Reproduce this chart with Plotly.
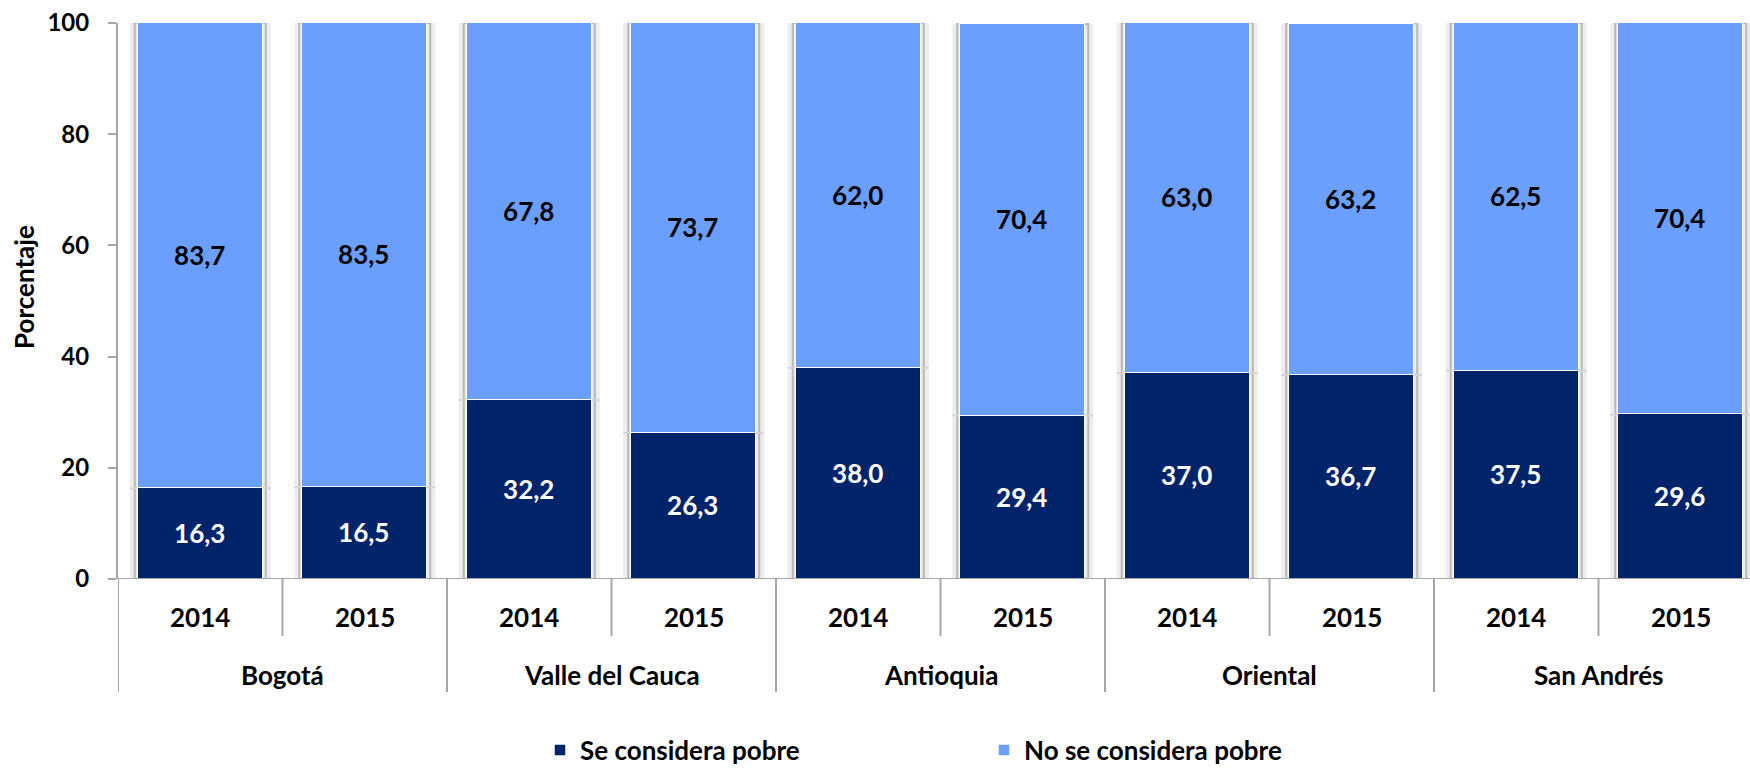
import plotly.graph_objects as go

# Data: self-perceived poverty by region and year (percent)
regions = ["Bogotá", "Valle del Cauca", "Antioquia", "Oriental", "San Andrés"]
years = ["2014", "2015"]
se_considera_pobre = [16.3, 16.5, 32.2, 26.3, 38.0, 29.4, 37.0, 36.7, 37.5, 29.6]
no_se_considera_pobre = [83.7, 83.5, 67.8, 73.7, 62.0, 70.4, 63.0, 63.2, 62.5, 70.4]
y_ticks = [0, 20, 40, 60, 80, 100]

DARK = "#00246A"
LIGHT = "#6A9FFE"
AXIS_GRAY = "#A6A6A6"
FONT = "Lato"

n = len(regions) * len(years)
positions = list(range(n))
bar_width = 0.76

# geometry of the plotting area (pixels)
W, H = 1750, 771
m_l, m_r, m_t, m_b = 118, 0, 23, 192
plot_w = W - m_l - m_r
plot_h = H - m_t - m_b
slot_px = 164.5
x_max = -0.5 + plot_w / slot_px

fig = go.Figure()

fig.add_trace(go.Bar(
    x=positions, y=se_considera_pobre, name="Se considera pobre",
    width=bar_width, marker=dict(color=DARK, line=dict(color="white", width=1.5)),
    texttemplate="%{y:.1f}", textposition="inside", insidetextanchor="middle",
    textangle=0, constraintext="none",
    textfont=dict(family=FONT, size=26, color="white", weight="bold"),
    hoverinfo="skip",
))
fig.add_trace(go.Bar(
    x=positions, y=no_se_considera_pobre, name="No se considera pobre",
    width=bar_width, marker=dict(color=LIGHT, line=dict(color="white", width=1.5)),
    texttemplate="%{y:.1f}", textposition="inside", insidetextanchor="middle",
    textangle=0, constraintext="none",
    textfont=dict(family=FONT, size=26, color="black", weight="bold"),
    hoverinfo="skip",
))

shapes = []
annotations = []
px = 1.0 / slot_px

# soft shadow frames behind each stacked column
for i in positions:
    total = se_considera_pobre[i] + no_se_considera_pobre[i]
    half = bar_width / 2
    shapes.append(dict(type="rect", xref="x", yref="y", layer="below",
                       x0=i - half - 8 * px, x1=i + half + 8 * px, y0=0, y1=total,
                       fillcolor="#EDEDED", line=dict(width=0)))
    shapes.append(dict(type="rect", xref="x", yref="y", layer="below",
                       x0=i - half - 3 * px, x1=i + half + 3 * px, y0=0, y1=total,
                       fillcolor="rgba(0,0,0,0)", line=dict(color="#B8B8B8", width=2)))
    shapes.append(dict(type="line", xref="x", yref="y", layer="below",
                       x0=i - half - 8 * px, x1=i + half + 8 * px,
                       y0=se_considera_pobre[i], y1=se_considera_pobre[i],
                       line=dict(color="#D4D4D4", width=2)))

# category axis: year ticks and region dividers
y_year = -38 / plot_h
y_region = -96 / plot_h
tick_bottom = -57 / plot_h
div_bottom = -113 / plot_h
label_font = dict(family=FONT, size=26, color="black", weight="bold")
for g, region in enumerate(regions):
    base = g * len(years)
    for k, yr in enumerate(years):
        annotations.append(dict(x=base + k, y=y_year, xref="x", yref="paper",
                                text=yr, showarrow=False, xanchor="center", yanchor="middle",
                                font=label_font))
    annotations.append(dict(x=base + (len(years) - 1) / 2, y=y_region, xref="x", yref="paper",
                            text=region, showarrow=False, xanchor="center", yanchor="middle",
                            font=label_font))
    for k in range(1, len(years)):
        xb = base + k - 0.5
        shapes.append(dict(type="line", xref="x", yref="paper", x0=xb, x1=xb,
                           y0=0, y1=tick_bottom, line=dict(color=AXIS_GRAY, width=2)))
    xb = base - 0.5
    shapes.append(dict(type="line", xref="x", yref="paper", x0=xb, x1=xb,
                       y0=0, y1=div_bottom, line=dict(color=AXIS_GRAY, width=2)))
xb = n - 0.5
shapes.append(dict(type="line", xref="x", yref="paper", x0=xb, x1=xb,
                   y0=0, y1=div_bottom, line=dict(color=AXIS_GRAY, width=2)))

# horizontal axis line, reaching past the value axis like the tick at 0
shapes.append(dict(type="line", xref="paper", yref="y", x0=-8 / plot_w, x1=1,
                   y0=0, y1=0, line=dict(color=AXIS_GRAY, width=2)))

annotations.append(dict(x=(24 - m_l) / plot_w, y=(m_t + plot_h - 287) / plot_h,
                        xref="paper", yref="paper", text="Porcentaje", textangle=-90,
                        showarrow=False, xanchor="center", yanchor="middle",
                        font=dict(family=FONT, size=26, color="black", weight="bold")))

fig.update_layout(
    width=W, height=H,
    margin=dict(l=m_l, r=m_r, t=m_t, b=m_b, autoexpand=False),
    barmode="stack",
    bargap=0,
    separators=",.",
    paper_bgcolor="white",
    plot_bgcolor="white",
    font=dict(family=FONT, size=24, color="black"),
    showlegend=True,
    legend=dict(orientation="h", x=(540 - m_l) / plot_w, xanchor="left",
                y=-(750 - m_t - plot_h) / plot_h, yanchor="middle",
                entrywidth=399, entrywidthmode="pixels",
                font=dict(family=FONT, size=26, color="black", weight="bold"),
                traceorder="normal"),
    xaxis=dict(range=[-0.5, x_max], showticklabels=False, showgrid=False,
               zeroline=False, showline=False, ticks=""),
    yaxis=dict(range=[0, 100], tickvals=y_ticks, showgrid=False, zeroline=False,
               showline=True, linecolor=AXIS_GRAY, linewidth=2,
               ticks="outside", ticklen=8, tickwidth=2, tickcolor=AXIS_GRAY,
               ticklabelstandoff=14,
               tickfont=dict(family=FONT, size=24, color="black", weight="bold")),
    shapes=shapes,
    annotations=annotations,
)

fig.write_html("out.html")
